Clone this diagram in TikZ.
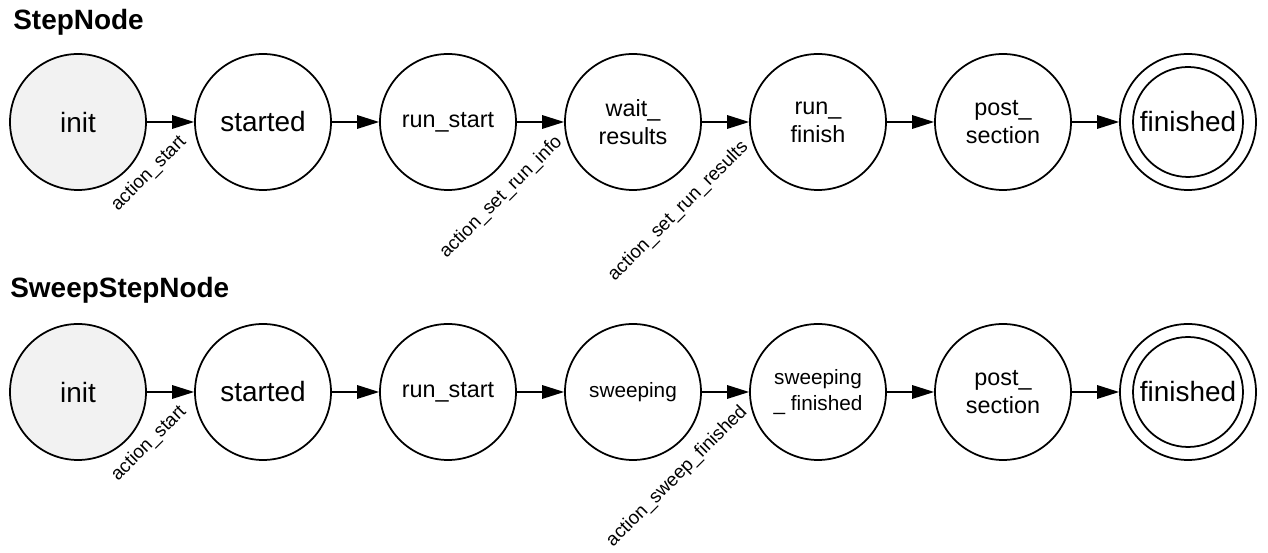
\documentclass[tikz,border=0pt]{standalone}
\usepackage{fontspec}
\setmainfont{Liberation Sans}
\usetikzlibrary{arrows.meta}

\definecolor{initfill}{HTML}{F2F2F2}

\tikzset{
    state/.style={circle, draw, line width=1pt, minimum size=2.72cm, inner sep=0pt, align=center,
        font=\fontsize{13.3}{15.9}\selectfont},
    bigstate/.style={state, font=\fontsize{15.9}{19}\selectfont},
    smallstate/.style={state, font=\fontsize{11.8}{14.7}\selectfont},
    initstate/.style={bigstate, fill=initfill},
    arr/.style={-{Triangle[length=0.44cm, width=0.27cm]}, line width=0.9pt},
    elabel/.style={rotate=45, anchor=north east, inner sep=0pt, font=\fontsize{10.7}{12}\selectfont},
    rowtitle/.style={anchor=base west, inner sep=0pt, font=\bfseries\fontsize{15.9}{19}\selectfont}
}

\begin{document}
\begin{tikzpicture}

    % Cadre de l'image
    \useasboundingbox (0,0) rectangle (25.36,11.06);

    % Hauteurs des deux rangées et pas horizontal
    \def\ystep{8.62}   % rangée StepNode
    \def\ysweep{3.22}  % rangée SweepStepNode
    \def\dx{3.7}

    % ==============================================
    % RANGEE 1 : StepNode
    % ==============================================
    \node[rowtitle] (t1) at (0.26, 10.46) {StepNode};

    \foreach \txt/\sty [count=\i] in {init/initstate, started/bigstate, run\_start/state,
            {wait\_\\results}/state, {run\_\\finish}/state, {post\_\\section}/state, finished/bigstate} {
        \pgfmathsetmacro{\x}{1.56+(\i-1)*\dx}
        \node[\sty] (a\i) at (\x, \ystep) {\txt};
    }
    \draw[line width=1pt] (a7.center) circle (1.1);

    \draw[arr] (a1) -- node[xshift=-0.34cm, yshift=-0.2cm, pos=1, elabel] {action\_start} (a2);
    \draw[arr] (a2) -- (a3);
    \draw[arr] (a3) -- node[xshift=-0.22cm, yshift=-0.2cm, pos=1, elabel] {action\_set\_run\_info} (a4);
    \draw[arr] (a4) -- node[xshift=-0.2cm, yshift=-0.3cm, pos=1, elabel] {action\_set\_run\_results} (a5);
    \draw[arr] (a5) -- (a6);
    \draw[arr] (a6) -- (a7);

    % ==============================================
    % RANGEE 2 : SweepStepNode
    % ==============================================
    \node[rowtitle] (t2) at (0.2, 5.10) {SweepStepNode};

    \foreach \txt/\sty [count=\i] in {init/initstate, started/bigstate, run\_start/state,
            sweeping/smallstate, {sweeping\\\_ finished}/smallstate, {post\_\\section}/state, finished/bigstate} {
        \pgfmathsetmacro{\x}{1.56+(\i-1)*\dx}
        \node[\sty] (b\i) at (\x, \ysweep) {\txt};
    }
    \draw[line width=1pt] (b7.center) circle (1.1);

    \draw[arr] (b1) -- node[xshift=-0.34cm, yshift=-0.2cm, pos=1, elabel] {action\_start} (b2);
    \draw[arr] (b2) -- (b3);
    \draw[arr] (b3) -- (b4);
    \draw[arr] (b4) -- node[xshift=-0.22cm, yshift=-0.2cm, pos=1, elabel] {action\_sweep\_finished} (b5);
    \draw[arr] (b5) -- (b6);
    \draw[arr] (b6) -- (b7);

\end{tikzpicture}
\end{document}
